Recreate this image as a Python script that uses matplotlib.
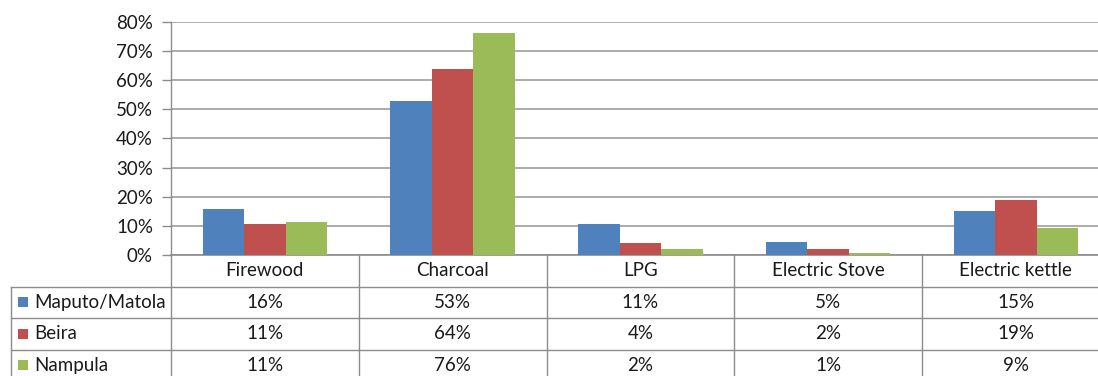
import matplotlib
matplotlib.use("Agg")
import matplotlib.pyplot as plt
import matplotlib.transforms as mtransforms
from matplotlib.patches import Rectangle
import numpy as np

plt.rcParams['font.family'] = ['Lato', 'DejaVu Sans']

categories = ["Firewood", "Charcoal", "LPG", "Electric Stove", "Electric kettle"]
series_names = ["Maputo/Matola", "Beira", "Nampula"]
maputo = [15.7, 52.7, 10.8, 4.6, 15.0]
beira = [10.6, 63.7, 4.1, 2.05, 18.7]
nampula = [11.4, 76.0, 2.05, 0.6, 9.3]
series = [maputo, beira, nampula]
colors = ["#4F81BD", "#C0504D", "#9BBB59"]
yticks = [0, 10, 20, 30, 40, 50, 60, 70, 80]

FS = 13.5
TXT = "#1a1a1a"
W, H = 1098, 376
fig = plt.figure(figsize=(W / 100, H / 100), dpi=100)
ax = fig.add_axes([171 / W, (H - 255) / H, 938.75 / W, (255 - 21.7) / H])

x = np.arange(len(categories))
bw = 0.221
for i, (vals, c) in enumerate(zip(series, colors)):
    ax.bar(x + (i - 1) * bw, vals, width=bw, color=c, zorder=3, linewidth=0)

ax.set_xlim(-0.5, len(categories) - 0.5)
ax.set_ylim(0, 80)
ax.set_yticks(yticks)
ax.set_yticklabels([f"{t}%" for t in yticks], fontsize=FS, color=TXT)
ax.set_xticks([])
ax.grid(axis="y", color="#ababab", linewidth=1.4, zorder=0)
ax.tick_params(axis="y", length=6.5, width=1.0, color="#8c8c8c", pad=6.5)
for s in ["top", "right"]:
    ax.spines[s].set_visible(False)
ax.spines["left"].set_color("#8c8c8c")
ax.spines["bottom"].set_color("#8c8c8c")
ax.spines["left"].set_linewidth(1.0)
ax.spines["bottom"].set_linewidth(1.2)

# Data table below the axes
trans = mtransforms.blended_transform_factory(ax.transData, fig.transFigure)
ftr = fig.transFigure
line_c = "#8c8c8c"
row_edges_px = [255, 286.5, 318, 349.5, 381]
row_edges = [(H - p) / H for p in row_edges_px]
left_fig = 11 / W
axis_left_fig = 171 / W

for yy in row_edges[1:]:
    fig.add_artist(plt.Line2D([left_fig, 1.02], [yy, yy], transform=ftr, color=line_c, lw=1.0))
fig.add_artist(plt.Line2D([left_fig, left_fig], [row_edges[1], row_edges[-1]], transform=ftr, color=line_c, lw=1.0))
fig.add_artist(plt.Line2D([axis_left_fig, axis_left_fig], [row_edges[0], row_edges[-1]], transform=ftr, color=line_c, lw=1.0))
for b in np.arange(0.5, len(categories) - 0.5, 1.0):
    fig.add_artist(plt.Line2D([b, b], [row_edges[0], row_edges[-1]], transform=trans, color=line_c, lw=1.0))

hy = (row_edges[0] + row_edges[1]) / 2
for xi, cat in zip(x, categories):
    fig.text(xi, hy, cat, transform=trans, ha="center", va="center", fontsize=FS, color=TXT)

for r, (name, vals, c) in enumerate(zip(series_names, series, colors)):
    ymid = (row_edges[r + 1] + row_edges[r + 2]) / 2
    sq = 10
    fig.add_artist(Rectangle((18 / W, ymid - sq / 2 / H), sq / W, sq / H, transform=ftr,
                             facecolor=c, edgecolor="none"))
    fig.text(34 / W, ymid, name, transform=ftr, ha="left", va="center", fontsize=FS, color=TXT)
    for xi, v in zip(x, vals):
        fig.text(xi, ymid, f"{v:.0f}%", transform=trans, ha="center", va="center",
                 fontsize=FS, color=TXT)

fig.savefig("out.png", dpi=100)
